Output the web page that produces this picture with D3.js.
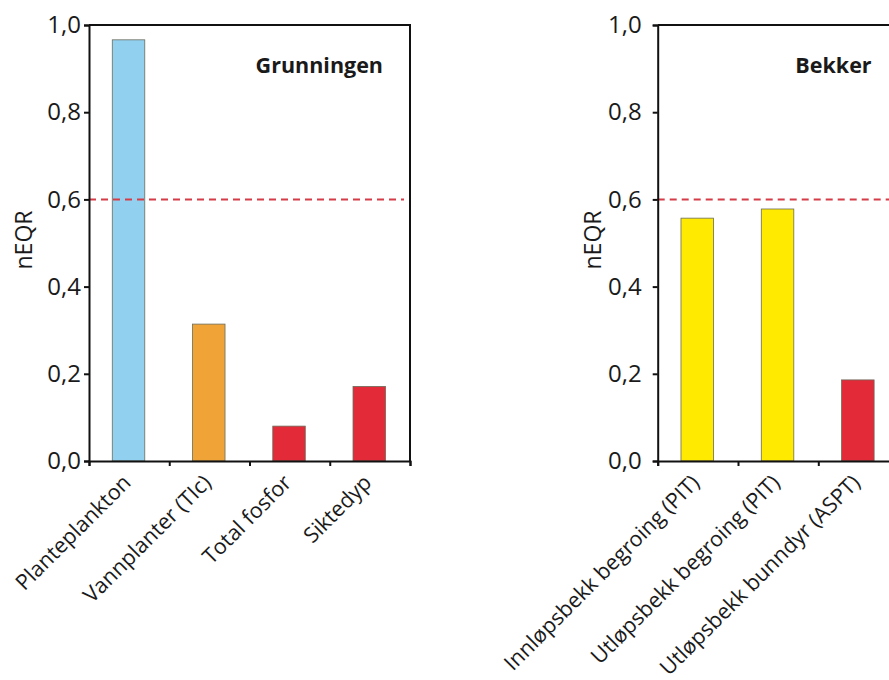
<!DOCTYPE html>
<html>
<head>
<meta charset="utf-8">
<script src="https://cdn.jsdelivr.net/npm/d3@7"></script>
<style>
  body { margin: 0; background: #fff; }
  svg { display: block; }
  text { font-family: "Open Sans", "Noto Sans", sans-serif; fill: #1a1a1a; }
</style>
</head>
<body>
<svg id="chart" width="889" height="680"></svg>
<script>
// ---- Data ----
const lakeCategories = ["Planteplankton", "Vannplanter (TIc)", "Total fosfor", "Siktedyp"];
const lakeValues = [0.966, 0.314, 0.080, 0.171];
const lakeColors = ["#92d0f0", "#f0a437", "#e22a38", "#e22a38"];
const lakeTitle = "Grunningen";

const streamCategories = ["Innløpsbekk begroing (PIT)", "Utløpsbekk begroing (PIT)", "Utløpsbekk bunndyr (ASPT)"];
const streamValues = [0.557, 0.578, 0.186];
const streamColors = ["#ffea00", "#ffea00", "#e22a38"];
const streamTitle = "Bekker";

const yTicks = [0, 0.2, 0.4, 0.6, 0.8, 1.0];
const threshold = 0.6;
const yLabel = "nEQR";

const svg = d3.select("#chart");
svg.append("rect").attr("width", 889).attr("height", 680).attr("fill", "#fff");

function panel(cfg) {
  const { left, right, top, bottom, cats, vals, cols, title, tickPad, dashEnd } = cfg;
  const g = svg.append("g");
  const x = d3.scaleBand().domain(cats).range([left, right]).padding(0);
  const xi = d3.scaleLinear().domain([0, cats.length]).range([left, right]);
  const y = d3.scaleLinear().domain([0, 1]).range([bottom, top]);
  const bw = x.bandwidth();

  // bars
  g.selectAll("rect.bar").data(cats).join("rect")
    .attr("class", "bar")
    .attr("x", d => x(d) + bw * 0.29)
    .attr("width", bw * 0.405)
    .attr("y", (d, i) => y(vals[i]))
    .attr("height", (d, i) => y(0) - y(vals[i]))
    .attr("fill", (d, i) => cols[i])
    .attr("stroke", "#6b6b5a")
    .attr("stroke-width", 0.8);

  // threshold dashed line
  g.append("line")
    .attr("x1", left).attr("x2", dashEnd)
    .attr("y1", y(threshold)).attr("y2", y(threshold))
    .attr("stroke", "#d43c48").attr("stroke-width", 2)
    .attr("stroke-dasharray", "7,5");

  // frame top/right
  g.append("path")
    .attr("d", `M${left},${top}H${right}V${bottom}`)
    .attr("fill", "none").attr("stroke", "#111").attr("stroke-width", 2);

  // y axis
  const ya = g.append("g").attr("transform", `translate(${left},0)`)
    .call(d3.axisLeft(y).tickValues(yTicks).tickSize(5).tickPadding(tickPad)
      .tickFormat(d => d3.format(".1f")(d).replace(".", ",")));
  ya.select(".domain").attr("stroke", "#111").attr("stroke-width", 2);
  ya.selectAll(".tick line").attr("stroke", "#111").attr("stroke-width", 2);
  ya.selectAll(".tick text").attr("font-size", 24).attr("font-family", "Open Sans").attr("fill", "#1a1a1a");

  // x axis with boundary ticks
  const xa = g.append("g").attr("transform", `translate(0,${bottom})`)
    .call(d3.axisBottom(xi).tickValues(d3.range(cats.length + 1)).tickSize(5).tickFormat(""));
  xa.select(".domain").attr("stroke", "#111").attr("stroke-width", 2);
  xa.selectAll(".tick line").attr("stroke", "#111").attr("stroke-width", 2);

  // category labels
  g.selectAll("text.cat").data(cats).join("text")
    .attr("class", "cat")
    .attr("text-anchor", "end")
    .attr("font-size", 21.5)
    .attr("transform", d => `translate(${x(d) + bw / 2 + 3},${bottom + 23}) rotate(-45)`)
    .text(d => d);

  // y label
  g.append("text")
    .attr("text-anchor", "middle")
    .attr("font-size", 23)
    .attr("transform", `translate(${left - 57},${(top + bottom) / 2 - 3}) rotate(-90)`)
    .text(yLabel);

  // panel title
  g.append("text")
    .attr("text-anchor", "end")
    .attr("font-size", 21.5)
    .attr("font-weight", "bold")
    .attr("x", right - 27).attr("y", 73)
    .text(title);
}

panel({ left: 89, right: 410, top: 25, bottom: 461, cats: lakeCategories, vals: lakeValues,
        cols: lakeColors, title: lakeTitle, tickPad: 3, dashEnd: 404 });
panel({ left: 657.7, right: 898.6, top: 25, bottom: 461, cats: streamCategories, vals: streamValues,
        cols: streamColors, title: streamTitle, tickPad: 11, dashEnd: 898.6 });
</script>
</body>
</html>
